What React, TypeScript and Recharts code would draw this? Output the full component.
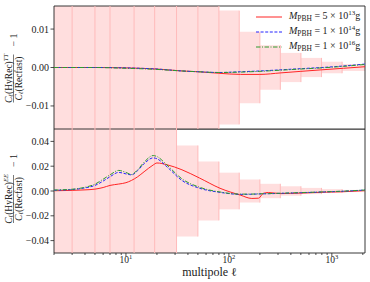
import React from "react";
import {
  ComposedChart,
  Line,
  XAxis,
  YAxis,
  ReferenceArea,
  ReferenceLine,
  Legend,
} from "recharts";

// cosmic variance bins (edges in multipole, half width of the band)
const binEdges = [2, 3, 5, 7, 12, 19, 31, 50, 80, 126, 200, 316, 501, 794, 1259, 2100];
const binHalf = [0.5, 0.3, 0.25, 0.15, 0.1, 0.07, 0.0367, 0.0237, 0.0148, 0.0093, 0.0058, 0.0038, 0.0025, 0.0015, 0.0009];

// TT ratio (top panel)
const ttEll = [2, 5, 10, 20, 35, 50, 80, 130, 200, 320, 500, 800, 1300, 2100];
const ttRed = [0, 0, -0.0001, -0.0004, -0.0009, -0.0011, -0.0015, -0.0018, -0.0018, -0.0014, -0.001, -0.0006, -0.0002, 0.0002];
const ttBlue = [0, 0, -0.0001, -0.0004, -0.0009, -0.0011, -0.0013, -0.0011, -0.0009, -0.0006, -0.0003, 0, 0.0004, 0.0009];
const ttGreen = [0, 0, -0.0002, -0.0005, -0.0009, -0.0011, -0.0013, -0.0012, -0.001, -0.0007, -0.0004, -0.0001, 0.0003, 0.0008];

// EE ratio (bottom panel)
const eeEll = [2, 3, 4, 5, 6, 7, 8.5, 10, 11.3, 13, 15, 18.4, 20, 25, 35, 52, 82, 129, 167, 194, 216, 242, 315, 500, 820, 1300, 2100];
const eeRed = [0.0002, 0.0005, 0.0009, 0.0015, 0.0028, 0.0045, 0.0056, 0.0067, 0.0085, 0.0115, 0.0155, 0.021, 0.0226, 0.0212, 0.0171, 0.0104, 0.0022, -0.0033, -0.006, -0.0058, -0.0019, -0.0012, -0.0021, -0.0017, -0.001, -0.0006, 0.0003];
const eeBlue = [0.0006, 0.0012, 0.0025, 0.0045, 0.008, 0.0115, 0.015, 0.0138, 0.013, 0.0165, 0.022, 0.0267, 0.026, 0.0195, 0.0085, 0.0022, -0.0011, -0.0027, -0.0026, -0.0024, -0.0023, -0.0022, -0.0019, -0.0014, -0.0008, -0.0002, 0.0008];
const eeGreen = [0.0008, 0.0014, 0.003, 0.0055, 0.0095, 0.013, 0.0166, 0.015, 0.0133, 0.0172, 0.0232, 0.0286, 0.0278, 0.021, 0.0098, 0.003, -0.0008, -0.0025, -0.0025, -0.0023, -0.0022, -0.0021, -0.0018, -0.0013, -0.0007, -0.0001, 0.0008];

const seriesKeys = ["red", "blue", "green"];
const massMantissa = ["5", "1", "1"];
const massExponent = ["13", "14", "16"];
const seriesColors = ["#ff2525", "#2525ff", "#2e9a2e"];
const seriesDash = [undefined, "3 1.6", "4.5 1.5 1 1.5"];

const xMajor = [10, 100, 1000];
const xMinor = [2, 3, 4, 5, 6, 7, 8, 9, 20, 30, 40, 50, 60, 70, 80, 90, 200, 300, 400, 500, 600, 700, 800, 900, 2000];
const ttTicks = [-0.01, 0, 0.01];
const eeTicks = [-0.04, -0.02, 0, 0.02, 0.04];

const xDomain = [2, 2100];
const ttDomain = [-0.016, 0.016];
const eeDomain = [-0.05, 0.05];

const buildRows = (ell: number[], red: number[], blue: number[], green: number[]) =>
  ell.map((l, i) => ({ l, red: red[i], blue: blue[i], green: green[i] }));

const ttData = buildRows(ttEll, ttRed, ttBlue, ttGreen);
const eeData = buildRows(eeEll, eeRed, eeBlue, eeGreen);

const INK = "#222";
const SERIF = '"Liberation Serif", "DejaVu Serif", serif';

const fmtY = (v: number) => (v < 0 ? "\u2212" : "") + Math.abs(v).toFixed(2);

const YTick = ({ x, y, payload }: any) => (
  <g>
    <line x1={x - 3.5} x2={x} y1={y} y2={y} stroke={INK} strokeWidth={0.8} />
    <text x={x - 5} y={y + 3.5} textAnchor="end" fontSize={10} fontFamily={SERIF} fill={INK}>
      {fmtY(payload.value)}
    </text>
  </g>
);

const XTick = ({ x, y, payload }: any) => {
  const major = xMajor.includes(payload.value);
  return (
    <g>
      <line x1={x} x2={x} y1={y} y2={y + (major ? 3.5 : 2)} stroke={INK} strokeWidth={0.8} />
      {major && (
        <text x={x} y={y + 9.5} textAnchor="middle" fontSize={9.5} fontFamily={SERIF} fill={INK}>
          10
          <tspan fontSize={6.5} dy={-4}>
            {Math.round(Math.log10(payload.value))}
          </tspan>
        </text>
      )}
    </g>
  );
};

// rotated C_l(HyRec)^XX / C_l(Recfast) - 1
const RatioLabel = ({ cx, cy, sup }: { cx: number; cy: number; sup: string }) => (
  <g transform={`translate(${cx},${cy}) rotate(-90)`} fontSize={9.5} fontFamily={SERIF} fill={INK}>
    <text x={0} y={-1.8} textAnchor="middle">
      <tspan fontStyle="italic">C</tspan>
      <tspan fontStyle="italic" fontSize={6.5} dy={1.5}>ℓ</tspan>
      <tspan dy={-1.5}>(HyRec)</tspan>
      <tspan fontStyle="italic" fontSize={6.5} dy={-3.8}>{sup}</tspan>
    </text>
    <line x1={-24} x2={24} y1={0} y2={0} stroke={INK} strokeWidth={0.6} />
    <text x={0} y={8.3} textAnchor="middle">
      <tspan fontStyle="italic">C</tspan>
      <tspan fontStyle="italic" fontSize={6.5} dy={1.5}>ℓ</tspan>
      <tspan dy={-1.5}>(Recfast)</tspan>
    </text>
    <text x={38.5} y={3.5} textAnchor="middle" fontSize={10}>
      {"\u2212 1"}
    </text>
  </g>
);

const MassLegend = () => (
  <div style={{ fontSize: 10, color: INK, fontFamily: SERIF }}>
    {massExponent.map((e, i) => (
      <div key={e} style={{ display: "flex", alignItems: "center", height: 15 }}>
        <svg width={28} height={10}>
          <line x1={1} x2={27} y1={5} y2={5} stroke={seriesColors[i]} strokeWidth={1} strokeDasharray={seriesDash[i]} />
        </svg>
        <span style={{ marginLeft: 6, whiteSpace: "nowrap", lineHeight: "15px" }}>
          <i>M</i>
          <span style={{ fontSize: 7.5, position: "relative", top: 2 }}>PBH</span>
          {" = "}
          {massMantissa[i]}
          {" \u00d7 "}10
          <span style={{ fontSize: 7, position: "relative", top: -4 }}>{e}</span>g
        </span>
      </div>
    ))}
  </div>
);

const bands = () =>
  binHalf.map((h, i) => (
    <ReferenceArea
      key={`band-${i}`}
      x1={binEdges[i]}
      x2={binEdges[i + 1]}
      y1={-h}
      y2={h}
      fill="#ffdede"
      fillOpacity={1}
      stroke="none"
      ifOverflow="hidden"
    />
  ));

const bandEdges = () =>
  binHalf.slice(0, -1).map((h, i) => {
    const hh = Math.max(h, binHalf[i + 1]);
    return (
      <ReferenceLine
        key={`edge-${i}`}
        segment={[
          { x: binEdges[i + 1], y: -hh },
          { x: binEdges[i + 1], y: hh },
        ]}
        stroke="#ffbaba"
        strokeWidth={1}
        ifOverflow="hidden"
      />
    );
  });

const series = () =>
  seriesKeys.map((k, i) => (
    <Line
      key={k}
      dataKey={k}
      type="monotone"
      stroke={seriesColors[i]}
      strokeWidth={1}
      strokeDasharray={seriesDash[i]}
      dot={false}
      isAnimationActive={false}
    />
  ));

const frame = (dom: number[]) => (
  <ReferenceArea
    x1={xDomain[0]}
    x2={xDomain[1]}
    y1={dom[0]}
    y2={dom[1]}
    fill="none"
    stroke={INK}
    strokeWidth={0.9}
    ifOverflow="visible"
  />
);

export default function App() {
  return (
    <div
      style={{
        position: "absolute",
        left: 0,
        top: 0,
        width: 370,
        height: 282,
        background: "#fff",
        fontFamily: SERIF,
      }}
    >
      <div style={{ position: "absolute", left: 0, top: 0 }}>
        <ComposedChart width={370} height={130} data={ttData} margin={{ top: 6, right: 5, bottom: 1, left: 0 }}>
          <XAxis dataKey="l" type="number" scale="log" domain={xDomain} allowDataOverflow hide />
          <YAxis
            type="number"
            domain={ttDomain}
            ticks={ttTicks}
            interval={0}
            allowDataOverflow
            width={54}
            axisLine={false}
            tickLine={false}
            tickSize={0}
            tickMargin={0}
            tick={<YTick />}
            label={{ content: () => <RatioLabel cx={13.5} cy={78.5} sup="TT" /> }}
          />
          {bands()}
          {bandEdges()}
          {series()}
          {frame(ttDomain)}
          <Legend
            layout="vertical"
            align="center"
            verticalAlign="middle"
            wrapperStyle={{ left: 255, top: 9, width: 115 }}
            content={() => <MassLegend />}
          />
        </ComposedChart>
      </div>
      <div style={{ position: "absolute", left: 0, top: 129 }}>
        <ComposedChart width={370} height={153} data={eeData} margin={{ top: 0, right: 5, bottom: 0, left: 0 }}>
          <XAxis
            dataKey="l"
            type="number"
            scale="log"
            domain={xDomain}
            allowDataOverflow
            ticks={[...xMinor, ...xMajor].sort((a, b) => a - b)}
            interval={0}
            height={29}
            axisLine={false}
            tickLine={false}
            tickSize={0}
            tickMargin={0}
            tick={<XTick />}
            label={{ value: "multipole \u2113", position: "insideBottom", offset: 6, fontSize: 12, fill: INK, fontFamily: SERIF }}
          />
          <YAxis
            type="number"
            domain={eeDomain}
            ticks={eeTicks}
            interval={0}
            allowDataOverflow
            width={54}
            axisLine={false}
            tickLine={false}
            tickSize={0}
            tickMargin={0}
            tick={<YTick />}
            label={{ content: () => <RatioLabel cx={13.5} cy={70} sup="EE" /> }}
          />
          {bands()}
          {bandEdges()}
          {series()}
          {frame(eeDomain)}
        </ComposedChart>
      </div>
    </div>
  );
}
